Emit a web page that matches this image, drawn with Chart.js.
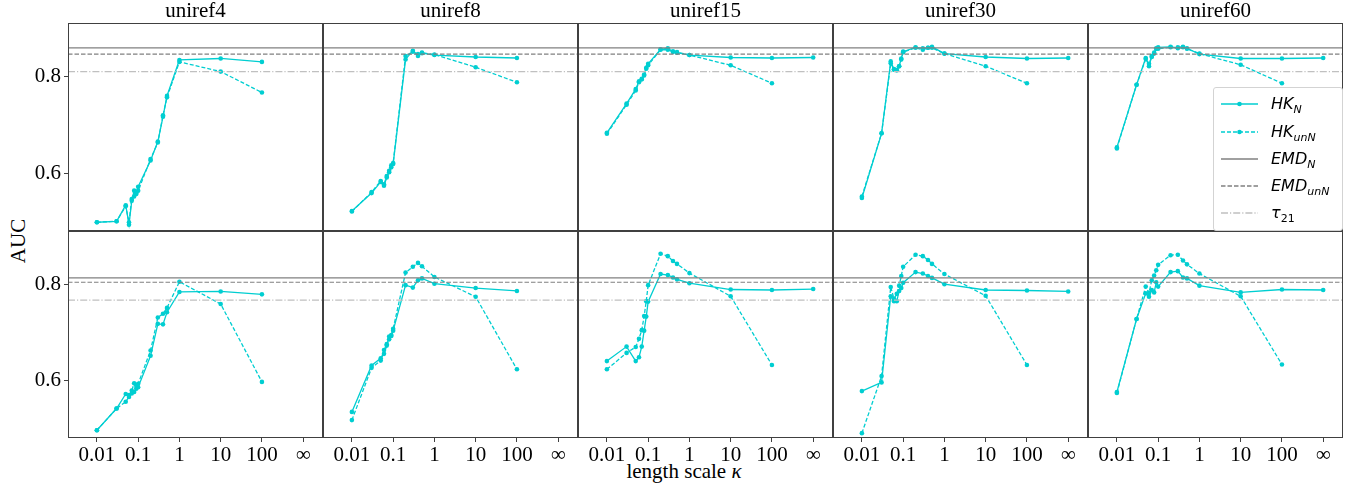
<!DOCTYPE html>
<html>
<head>
<meta charset="utf-8">
<script src="https://cdn.jsdelivr.net/npm/chart.js@4.4.1/dist/chart.umd.min.js"></script>
<style>
  body { margin: 0; background: #fff; width: 1367px; height: 489px; position: relative; overflow: hidden; }
  canvas { position: absolute; }
  .lbl { position: absolute; font-family: 'Liberation Serif', 'DejaVu Serif', serif; font-size: 21px; color: #000; white-space: nowrap; line-height: 1; }
  #legend { position: absolute; left: 1213px; top: 87px; width: 128px; height: 142px; border: 1px solid #d3d3d3; border-radius: 3px;
            background: rgba(255,255,255,0.8); z-index: 5; font-family: 'DejaVu Sans', sans-serif; font-size: 16px; }
  #legend .row { position: absolute; left: 0; height: 20px; width: 128px; }
  #legend svg { position: absolute; left: 6px; top: 0; }
  #legend .txt { position: absolute; left: 57px; top: 0; line-height: 20px; font-style: italic; }
  #legend sub { font-size: 11px; vertical-align: -4px; line-height: 0; }
  #legend sub.up { font-style: normal; }
</style>
</head>
<body>

<div class="lbl" id="ylab" style="left:18px; top:241px; transform: translate(-50%,-50%) rotate(-90deg);">AUC</div>
<div class="lbl" id="xlab" style="left:684px; top:471px; transform: translate(-50%,-50%);">length scale <i>&kappa;</i></div>

<div id="legend">
  <div class="row" style="top:6px"><svg width="40" height="20"><line x1="1" y1="10" x2="38" y2="10" stroke="#00ced1" stroke-width="1.3"/><circle cx="19.5" cy="10" r="2.3" fill="#00ced1"/></svg><span class="txt">HK<sub>N</sub></span></div>
  <div class="row" style="top:34px"><svg width="40" height="20"><line x1="1" y1="10" x2="38" y2="10" stroke="#00ced1" stroke-width="1.3" stroke-dasharray="4 2"/><circle cx="19.5" cy="10" r="2.3" fill="#00ced1"/></svg><span class="txt">HK<sub>unN</sub></span></div>
  <div class="row" style="top:61px"><svg width="40" height="20"><line x1="1" y1="10" x2="38" y2="10" stroke="#808080" stroke-width="1.3"/></svg><span class="txt">EMD<sub>N</sub></span></div>
  <div class="row" style="top:88px"><svg width="40" height="20"><line x1="1" y1="10" x2="38" y2="10" stroke="#808080" stroke-width="1.3" stroke-dasharray="4.5 2"/></svg><span class="txt">EMD<sub>unN</sub></span></div>
  <div class="row" style="top:115px"><svg width="40" height="20"><line x1="1" y1="10" x2="38" y2="10" stroke="#c0c0c0" stroke-width="1.3" stroke-dasharray="7 2 1.2 2"/></svg><span class="txt">&tau;<sub class="up">21</sub></span></div>
</div>

<script>
// length scale kappa for each point; 1000 is where "infinity" is plotted
var kappa = [0.01, 0.03, 0.05, 0.06, 0.07, 0.08, 0.09, 0.1, 0.2, 0.3, 0.4, 0.5, 1, 10, 100, 1000];
var kappaTicks = [0.01, 0.1, 1, 10, 100, 1000];
var kappaTickLabels = ['0.01', '0.1', '1', '10', '100', '\u221e'];
var aucTicks = [0.6, 0.8];
var columns = ['uniref4', 'uniref8', 'uniref15', 'uniref30', 'uniref60'];

// top row
var topN4    = [0.500, 0.502, 0.535, 0.495, 0.544, 0.565, 0.558, 0.573, 0.627, 0.666, 0.717, 0.760, 0.834, 0.837, 0.830, null];
var topUnN4  = [0.500, 0.502, 0.533, 0.500, 0.548, 0.553, 0.560, 0.565, 0.630, 0.664, 0.720, 0.757, 0.830, 0.810, 0.767, null];
var topN8    = [0.523, 0.560, 0.583, 0.575, 0.592, 0.603, 0.613, 0.620, 0.835, 0.853, 0.842, 0.848, 0.844, 0.840, 0.838, null];
var topUnN8  = [0.522, 0.562, 0.585, 0.578, 0.595, 0.606, 0.617, 0.622, 0.842, 0.851, 0.846, 0.849, 0.845, 0.819, 0.788, null];
var topN15   = [0.684, 0.744, 0.774, 0.790, 0.795, 0.802, 0.818, 0.826, 0.856, 0.858, 0.851, 0.849, 0.844, 0.839, 0.838, 0.839];
var topUnN15 = [0.682, 0.742, 0.771, 0.788, 0.794, 0.804, 0.816, 0.823, 0.855, 0.855, 0.851, 0.850, 0.844, 0.823, 0.786, null];
var topN30   = [0.550, 0.683, 0.831, 0.815, 0.813, 0.821, 0.837, 0.851, 0.860, 0.858, 0.859, 0.861, 0.847, 0.840, 0.837, 0.838];
var topUnN30 = [0.553, 0.683, 0.827, 0.814, 0.813, 0.821, 0.835, 0.850, 0.859, 0.855, 0.859, 0.859, 0.847, 0.821, 0.786, null];
var topN60   = [0.654, 0.783, 0.838, 0.821, 0.842, 0.847, 0.858, 0.860, 0.861, 0.858, 0.860, 0.858, 0.846, 0.837, 0.837, 0.838];
var topUnN60 = [0.652, 0.783, 0.836, 0.826, 0.840, 0.849, 0.857, 0.857, 0.860, 0.860, 0.861, 0.857, 0.847, 0.824, 0.786, null];

// bottom row
var botN4    = [0.498, 0.543, 0.573, 0.571, 0.574, 0.577, 0.584, 0.587, 0.652, 0.718, 0.717, 0.742, 0.784, 0.785, 0.779, null];
var botUnN4  = [0.498, 0.543, 0.557, 0.567, 0.580, 0.595, 0.590, 0.594, 0.663, 0.731, 0.739, 0.751, 0.805, 0.759, 0.598, null];
var botN8    = [0.536, 0.632, 0.647, 0.656, 0.673, 0.692, 0.695, 0.704, 0.798, 0.793, 0.808, 0.812, 0.801, 0.792, 0.786, null];
var botUnN8  = [0.519, 0.627, 0.642, 0.664, 0.676, 0.686, 0.693, 0.708, 0.824, 0.836, 0.844, 0.837, 0.815, 0.774, 0.624, null];
var botN15   = [0.641, 0.671, 0.641, 0.649, 0.671, 0.704, 0.733, 0.764, 0.821, 0.819, 0.814, 0.810, 0.802, 0.789, 0.788, 0.790];
var botUnN15 = [0.624, 0.658, 0.670, 0.687, 0.705, 0.734, 0.765, 0.798, 0.863, 0.858, 0.848, 0.842, 0.823, 0.775, 0.633, null];
var botN30   = [0.579, 0.597, 0.775, 0.765, 0.765, 0.786, 0.792, 0.803, 0.825, 0.822, 0.817, 0.813, 0.800, 0.788, 0.787, 0.785];
var botUnN30 = [0.492, 0.610, 0.794, 0.770, 0.780, 0.797, 0.817, 0.836, 0.861, 0.858, 0.850, 0.842, 0.821, 0.776, 0.633, null];
var botN60   = [0.577, 0.728, 0.781, 0.774, 0.788, 0.783, 0.804, 0.795, 0.825, 0.827, 0.814, 0.812, 0.797, 0.783, 0.789, 0.788];
var botUnN60 = [0.575, 0.728, 0.795, 0.782, 0.808, 0.818, 0.829, 0.840, 0.860, 0.861, 0.849, 0.841, 0.822, 0.775, 0.634, null];

// reference lines per row [top, bottom]
var emdN   = [0.859, 0.813];
var emdUnN = [0.846, 0.804];
var tau21  = [0.810, 0.767];

var hkN   = [[topN4, topN8, topN15, topN30, topN60], [botN4, botN8, botN15, botN30, botN60]];
var hkUnN = [[topUnN4, topUnN8, topUnN15, topUnN30, topUnN60], [botUnN4, botUnN8, botUnN15, botUnN30, botUnN60]];

var X_MIN = Math.pow(10, -2.70), X_MAX = Math.pow(10, 3.48);
var Y_MIN = 0.482, Y_MAX = 0.910;
var CYAN = '#00ced1';
var SERIF = "'Liberation Serif', 'DejaVu Serif', serif";

var PANEL_X0 = 68, PANEL_W = 255;
var ROW_TOP = [23, 231], ROW_H = [208, 207];
var PAD_L = 60, PAD_R = 10;

var framePlugin = {
  id: 'frame',
  afterDraw: function (chart) {
    var a = chart.chartArea, ctx = chart.ctx;
    ctx.save();
    ctx.strokeStyle = '#404040';
    ctx.lineWidth = 1;
    ctx.strokeRect(Math.round(a.left) + 0.5, Math.round(a.top) + 0.5,
                   Math.round(a.right - a.left) - 1, Math.round(a.bottom - a.top) - 1);
    ctx.restore();
  }
};

// keep every panel's plot box the same size whatever labels it shows
function noPadding(axis) {
  axis.paddingTop = 0; axis.paddingBottom = 0;
  axis.paddingLeft = 0; axis.paddingRight = 0;
}

function points(values) {
  var out = [];
  for (var i = 0; i < kappa.length; i++) {
    if (values[i] !== null) out.push({x: kappa[i], y: values[i]});
  }
  return out;
}

function refLine(v, color, dash) {
  return {
    data: [{x: X_MIN, y: v}, {x: X_MAX, y: v}],
    borderColor: color, borderWidth: 1.2, borderDash: dash,
    pointRadius: 0, fill: false
  };
}

function hkLine(values, dash) {
  return {
    data: points(values),
    borderColor: CYAN, backgroundColor: CYAN, borderWidth: 1.3, borderDash: dash,
    pointRadius: 2.3, pointBorderWidth: 0, pointBackgroundColor: CYAN, fill: false
  };
}

function makePanel(row, col) {
  var canvas = document.createElement('canvas');
  var top = row === 0 ? 0 : ROW_TOP[1] - 10;
  var height = row === 0 ? ROW_TOP[0] + ROW_H[0] + 10 : 10 + ROW_H[1] + 45;
  var left = PANEL_X0 + col * PANEL_W - PAD_L;
  var width = PAD_L + PANEL_W + PAD_R;
  canvas.width = width; canvas.height = height;
  canvas.style.left = left + 'px'; canvas.style.top = top + 'px';
  canvas.style.width = width + 'px'; canvas.style.height = height + 'px';
  document.body.appendChild(canvas);

  var showX = row === 1, showY = col === 0;

  new Chart(canvas.getContext('2d'), {
    type: 'line',
    data: {
      datasets: [
        refLine(emdN[row], '#808080', []),
        refLine(emdUnN[row], '#808080', [4.5, 2]),
        refLine(tau21[row], '#c0c0c0', [7, 2, 1.2, 2]),
        hkLine(hkUnN[row][col], [4, 2]),
        hkLine(hkN[row][col], [])
      ]
    },
    options: {
      responsive: false,
      animation: false,
      devicePixelRatio: 1,
      layout: { padding: { top: row === 0 ? 0 : 10, right: PAD_R, left: 0, bottom: 0 } },
      elements: { line: { tension: 0 } },
      plugins: {
        legend: { display: false },
        tooltip: { enabled: false },
        title: {
          display: row === 0,
          text: columns[col],
          fullSize: false,
          color: '#000',
          font: { family: SERIF, size: 21, weight: 'normal', lineHeight: 23 / 21 },
          padding: { top: 0, bottom: 0 }
        }
      },
      scales: {
        x: {
          type: 'logarithmic',
          min: X_MIN, max: X_MAX,
          afterBuildTicks: function (axis) { axis.ticks = kappaTicks.map(function (v) { return {value: v}; }); },
          afterFit: function (axis) { axis.height = showX ? 45 : 10; noPadding(axis); },
          border: { display: false },
          grid: { display: showX, drawOnChartArea: false, drawTicks: true, tickLength: 4, color: '#404040' },
          ticks: {
            display: showX, autoSkip: false, maxRotation: 0, padding: 1, color: '#000',
            font: { family: SERIF, size: 21 },
            callback: function (v, i) { return kappaTickLabels[i]; }
          }
        },
        y: {
          type: 'linear',
          min: Y_MIN, max: Y_MAX,
          afterBuildTicks: function (axis) { axis.ticks = aucTicks.map(function (v) { return {value: v}; }); },
          afterFit: function (axis) { axis.width = PAD_L; noPadding(axis); },
          border: { display: false },
          grid: { display: showY, drawOnChartArea: false, drawTicks: true, tickLength: 4, color: '#404040' },
          ticks: {
            display: showY, padding: 3, color: '#000',
            font: { family: SERIF, size: 21 },
            callback: function (v) { return v.toFixed(1); }
          }
        }
      }
    },
    plugins: [framePlugin]
  });
}

for (var r = 0; r < 2; r++) {
  for (var c = 0; c < columns.length; c++) {
    makePanel(r, c);
  }
}
</script>
</body>
</html>
